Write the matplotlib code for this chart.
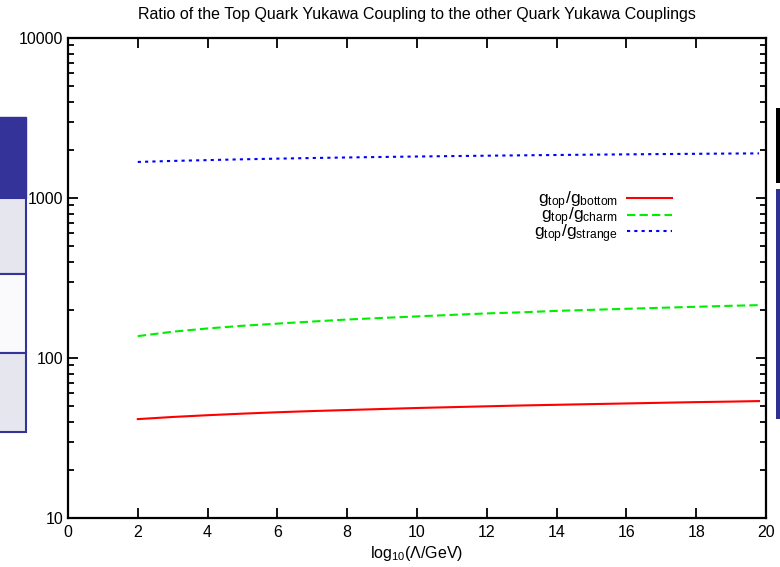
import matplotlib
matplotlib.use("Agg")
import matplotlib.pyplot as plt
from matplotlib.patches import Rectangle
from matplotlib.ticker import LogLocator, NullFormatter, FixedLocator

plt.rcParams['font.family'] = ['Liberation Sans', 'DejaVu Sans']
plt.rcParams['mathtext.fontset'] = 'custom'
plt.rcParams['mathtext.rm'] = 'Liberation Sans'
plt.rcParams['mathtext.it'] = 'Liberation Sans'

log_scale = [2, 3, 4, 5, 6, 7, 8, 9, 10, 11, 12, 13, 14, 15, 16, 17, 18, 19, 19.8]
g_bottom = [41.5, 42.8, 43.9, 44.9, 45.8, 46.6, 47.3, 48.0, 48.7, 49.3, 49.9,
            50.5, 51.0, 51.5, 52.0, 52.5, 53.0, 53.4, 53.8]
g_charm = [137, 146, 153, 159, 164, 169, 174, 178, 182, 186, 190,
           193, 197, 200, 203, 206, 209, 212, 214]
g_strange = [1680, 1705, 1725, 1745, 1762, 1778, 1792, 1805, 1817, 1828, 1838,
             1848, 1857, 1866, 1874, 1882, 1889, 1896, 1900]
x_ticks = [0, 2, 4, 6, 8, 10, 12, 14, 16, 18, 20]
y_ticks = [10, 100, 1000, 10000]
labels = [r'$\mathregular{g_{top}/g_{bottom}}$',
          r'$\mathregular{g_{top}/g_{charm}}$',
          r'$\mathregular{g_{top}/g_{strange}}$']
title = 'Ratio of the Top Quark Yukawa Coupling to the other Quark Yukawa Couplings'

W, H = 780, 567
fig = plt.figure(figsize=(W / 100, H / 100), dpi=100)
ax = fig.add_axes([68 / W, (H - 518) / H, 698 / W, 480 / H])

ax.plot(log_scale, g_bottom, color='#ff0000', lw=1.5, label=labels[0])
ax.plot(log_scale, g_charm, color='#00ee00', lw=1.5, ls=(0, (4, 2)), label=labels[1])
ax.plot(log_scale, g_strange, color='#0000ff', lw=1.5, ls=(0, (1.5, 2)), label=labels[2])

ax.set_yscale('log')
ax.set_xlim(0, 20)
ax.set_ylim(10, 10000)
ax.xaxis.set_major_locator(FixedLocator(x_ticks))
ax.set_yticks(y_ticks)
ax.set_yticklabels([str(v) for v in y_ticks])
ax.yaxis.set_minor_locator(LogLocator(base=10, subs=range(2, 10)))
ax.yaxis.set_minor_formatter(NullFormatter())
ax.tick_params(which='both', direction='in', top=True, right=True, width=1.3,
               labelsize=11.5, colors='black')
ax.tick_params(which='major', length=7)
ax.tick_params(which='minor', length=4)
ax.tick_params(axis='x', pad=5)
for s in ax.spines.values():
    s.set_linewidth(1.6)

ax.set_xlabel(r'log$_{10}$($\Lambda$/GeV)', fontsize=11.5, labelpad=3)
fig.text(0.5 * (68 + 766) / W, 1 - 14 / H, title, ha='center', va='center', fontsize=11.5)

leg = ax.legend(loc='center right', bbox_to_anchor=((672 - 68) / 698, (518 - 217) / 480),
                frameon=False, markerfirst=False, fontsize=12.5, handlelength=2.6,
                labelspacing=-0.35, handletextpad=0.5, borderpad=0, borderaxespad=0)
for t in leg.get_texts():
    t.set_ha('right')

# slide decorations
def px_rect(x0, y0, x1, y1, **kw):
    fig.patches.append(Rectangle((x0 / W, 1 - y1 / H), (x1 - x0) / W, (y1 - y0) / H,
                                 transform=fig.transFigure, figure=fig, **kw))

px_rect(-2, 117, 26, 198, facecolor='#333399', edgecolor='#333399', lw=1)
px_rect(-2, 198, 26, 274, facecolor='#e6e6ee', edgecolor='#333399', lw=1.5)
px_rect(-2, 274, 26, 353, facecolor='#fafafd', edgecolor='#333399', lw=1.5)
px_rect(-2, 353, 26, 432, facecolor='#e6e6ee', edgecolor='#333399', lw=1.5)
px_rect(776, 108, 782, 183, facecolor='black', edgecolor='none')
px_rect(776, 189, 782, 419, facecolor='#2e3192', edgecolor='none')

fig.savefig('out.png', dpi=100)
